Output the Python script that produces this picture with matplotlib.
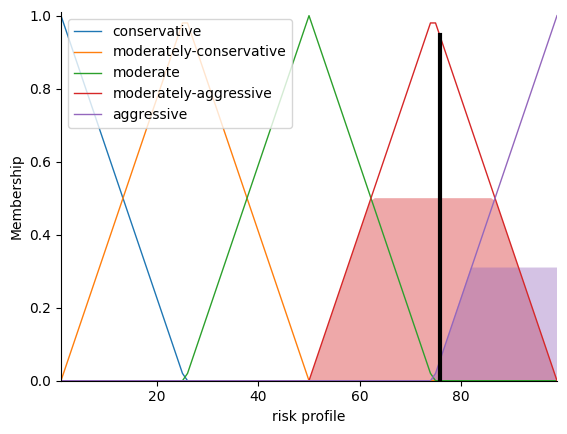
import matplotlib
matplotlib.use("Agg")
import matplotlib.pyplot as plt

# Membership function vertices (sampled on integer universe 1..99)
cons_x = [1, 25, 26, 99]
cons_y = [1.0, 0.02, 0.0, 0.0]
modc_x = [1, 25, 26, 50, 99]
modc_y = [0.0, 0.98, 0.98, 0.0, 0.0]
mod_x = [1, 25, 26, 50, 74, 75, 99]
mod_y = [0.0, 0.0, 0.02, 1.0, 0.02, 0.0, 0.0]
moda_x = [1, 50, 74, 75, 99]
moda_y = [0.0, 0.0, 0.98, 0.98, 0.0]
agg_x = [1, 74, 75, 99]
agg_y = [0.0, 0.0, 0.02, 1.0]

labels = ["conservative", "moderately-conservative", "moderate",
          "moderately-aggressive", "aggressive"]

# Activated (clipped) output sets
fill_moda_x = [1, 50, 62, 63, 86, 87, 99]
fill_moda_y = [0.0, 0.0, 0.49, 0.5, 0.5, 0.49, 0.0]
fill_agg_x = [1, 74, 75, 82, 83, 99]
fill_agg_y = [0.0, 0.0, 0.02, 0.31, 0.31, 0.31]

crisp = 75.8
crisp_height = 0.947

colors = ["#1f77b4", "#ff7f0e", "#2ca02c", "#d62728", "#9467bd"]

fig = plt.figure(figsize=(5.67, 4.34), dpi=100)
ax = fig.add_axes([61/567, 1-380.7/434, (557-61)/567, (380.7-12)/434])

ax.fill_between(fill_moda_x, 0, fill_moda_y, facecolor=colors[3], alpha=0.4)
ax.fill_between(fill_agg_x, 0, fill_agg_y, facecolor=colors[4], alpha=0.4)

series = [(cons_x, cons_y), (modc_x, modc_y), (mod_x, mod_y),
          (moda_x, moda_y), (agg_x, agg_y)]
for (x, y), lab, c in zip(series, labels, colors):
    ax.plot(x, y, lw=1, color=c, label=lab)

ax.plot([crisp, crisp], [0, crisp_height], color="k", lw=3)

ax.set_xlim(1, 99)
ax.set_ylim(0, 1.01)
ax.set_xlabel("risk profile")
ax.set_ylabel("Membership")
ax.spines["top"].set_visible(False)
ax.spines["right"].set_visible(False)
ax.legend(loc="upper left")

fig.savefig("out.png", dpi=100)
